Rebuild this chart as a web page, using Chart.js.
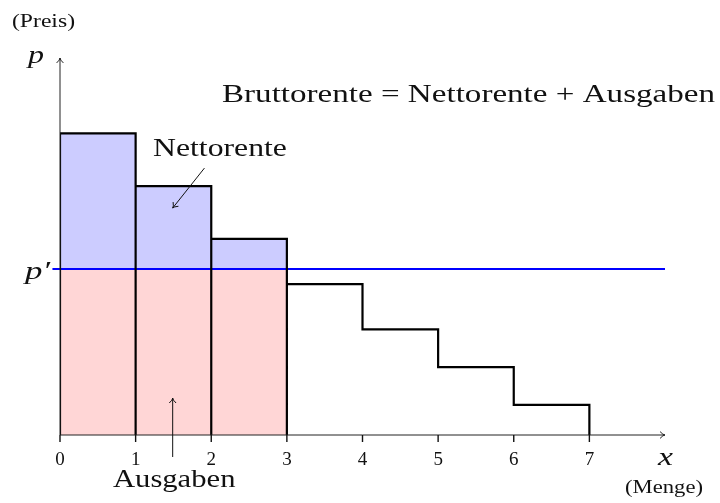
<!DOCTYPE html>
<html>
<head>
<meta charset="utf-8">
<script src="https://cdn.jsdelivr.net/npm/chart.js@4.4.1/dist/chart.umd.min.js"></script>
<style>
  html, body { margin: 0; padding: 0; background: #ffffff; }
  #wrap { width: 720px; height: 503px; }
</style>
</head>
<body>
<div id="wrap"><canvas id="c" width="720" height="503"></canvas></div>
<script>
// ---- data ----
const unitStarts = [0, 1, 2, 3, 4, 5, 6];               // left edge of each unit step
const unitPrices = [8.0, 6.6, 5.2, 4.0, 2.8, 1.8, 0.8]; // price of each unit (demand step heights)
const pPrime = 4.4;                                      // market price p'
const unitsBought = 3;                                   // units bought at p'
const xTickValues = [0, 1, 2, 3, 4, 5, 6, 7];
const xTickLabels = ['0', '1', '2', '3', '4', '5', '6', '7'];
const xMax = 8;
const yMax = 10;

// ---- derived point lists ----
const outline = [{x: 0, y: 0}];
for (let i = 0; i < unitPrices.length; i++) {
  const x0 = unitStarts[i], x1 = x0 + 1;
  outline.push({x: x0, y: unitPrices[i]});
  outline.push({x: x1, y: unitPrices[i]});
  if (x1 <= unitsBought || i === unitPrices.length - 1) {
    outline.push({x: x1, y: 0});
  }
}
const netTop = [];
for (let i = 0; i < unitsBought; i++) {
  netTop.push({x: unitStarts[i], y: unitPrices[i]});
  netTop.push({x: unitStarts[i] + 1, y: unitPrices[i]});
}
const spending = [{x: 0, y: pPrime}, {x: unitsBought, y: pPrime}];
const priceLine = [{x: -0.1, y: pPrime}, {x: xMax, y: pPrime}];

const SERIF = '"Liberation Serif", "DejaVu Serif", serif';

function arrowHead(ctx, x, y, ang, size) {
  ctx.beginPath();
  ctx.moveTo(x - size * Math.cos(ang - 0.6), y - size * Math.sin(ang - 0.6));
  ctx.quadraticCurveTo(x - size * 0.3 * Math.cos(ang), y - size * 0.3 * Math.sin(ang), x, y);
  ctx.quadraticCurveTo(x - size * 0.3 * Math.cos(ang), y - size * 0.3 * Math.sin(ang),
                       x - size * Math.cos(ang + 0.6), y - size * Math.sin(ang + 0.6));
  ctx.stroke();
}
function arrow(ctx, x1, y1, x2, y2, w, col) {
  ctx.save();
  ctx.strokeStyle = col; ctx.lineWidth = w; ctx.lineCap = 'butt';
  ctx.beginPath(); ctx.moveTo(x1, y1); ctx.lineTo(x2, y2); ctx.stroke();
  arrowHead(ctx, x2, y2, Math.atan2(y2 - y1, x2 - x1), 6);
  ctx.restore();
}
// draw text with its left edge at `left`, stretched to span to `right`, on baseline `base`
function fitText(ctx, text, left, right, base, font) {
  ctx.save();
  ctx.font = font;
  ctx.textAlign = 'left';
  ctx.textBaseline = 'alphabetic';
  const w = ctx.measureText(text).width;
  ctx.translate(left, base);
  ctx.scale((right - left) / w, 1);
  ctx.fillText(text, 0, 0);
  ctx.restore();
}

const overlay = {
  id: 'overlay',
  afterDatasetsDraw(chart) {
    const ctx = chart.ctx;
    const xs = chart.scales.x, ys = chart.scales.y;
    const X = v => xs.getPixelForValue(v), Y = v => ys.getPixelForValue(v);
    const ox = X(0), oy = Y(0);
    // axes
    arrow(ctx, ox, oy, X(xMax), oy, 1, '#222');
    arrow(ctx, ox, oy, ox, Y(yMax), 1, '#222');
    // ticks + labels
    ctx.save();
    ctx.strokeStyle = '#111'; ctx.lineWidth = 1.4;
    xTickValues.forEach(v => {
      ctx.beginPath(); ctx.moveTo(X(v), oy); ctx.lineTo(X(v), oy + 7); ctx.stroke();
    });
    ctx.fillStyle = '#111'; ctx.textAlign = 'center'; ctx.textBaseline = 'alphabetic';
    ctx.font = '19px ' + SERIF;
    xTickValues.forEach((v, i) => ctx.fillText(xTickLabels[i], X(v), oy + 30));
    ctx.restore();
    ctx.fillStyle = '#111';
    // axis labels
    fitText(ctx, 'x', X(xMax) - 7, X(xMax) + 8, oy + 30, 'italic 26px ' + SERIF);
    fitText(ctx, 'p', ox - 32, ox - 16, Y(yMax) + 5, 'italic 26px ' + SERIF);
    fitText(ctx, 'p\u2032', ox - 35, ox - 10, Y(pPrime) + 10, 'italic 26px ' + SERIF);
    fitText(ctx, '(Preis)', 12, 75, 27, '18px ' + SERIF);
    fitText(ctx, '(Menge)', 625, 703, oy + 58, '18px ' + SERIF);
    // annotations
    fitText(ctx, 'Bruttorente = Nettorente + Ausgaben', 222, 715, 102, '25px ' + SERIF);
    fitText(ctx, 'Nettorente', X(1.23), X(3.0), Y(7.4), '26px ' + SERIF);
    fitText(ctx, 'Ausgaben', X(0.70), X(2.32), oy + 52, '26px ' + SERIF);
    arrow(ctx, X(1.91), Y(7.08), X(1.49), Y(6.02), 1, '#111');
    arrow(ctx, X(1.49), oy + 22, X(1.49), Y(0.98), 1, '#111');
  }
};

new Chart(document.getElementById('c'), {
  type: 'line',
  data: {
    datasets: [
      { data: spending, parsing: false, borderWidth: 0, pointRadius: 0,
        backgroundColor: '#ffd6d6', borderColor: 'rgba(0,0,0,0)', fill: 'origin', order: 5 },
      { data: netTop, parsing: false, borderWidth: 0, pointRadius: 0,
        backgroundColor: '#ccccff', borderColor: 'rgba(0,0,0,0)', fill: {value: pPrime}, order: 4 },
      { data: priceLine, parsing: false, borderWidth: 2, pointRadius: 0,
        borderColor: '#0000ff', fill: false, order: 2, clip: false },
      { data: outline, parsing: false, borderWidth: 2.2, pointRadius: 0,
        borderColor: '#000', fill: false, order: 1, tension: 0, borderJoinStyle: 'miter' }
    ]
  },
  options: {
    responsive: false,
    animation: false,
    devicePixelRatio: 1,
    layout: { padding: { left: 60, right: 55, top: 58, bottom: 68 } },
    plugins: { legend: { display: false }, tooltip: { enabled: false }, filler: { propagate: false } },
    scales: {
      x: { type: 'linear', min: 0, max: xMax, display: false },
      y: { type: 'linear', min: 0, max: yMax, display: false }
    }
  },
  plugins: [overlay]
});
</script>
</body>
</html>
